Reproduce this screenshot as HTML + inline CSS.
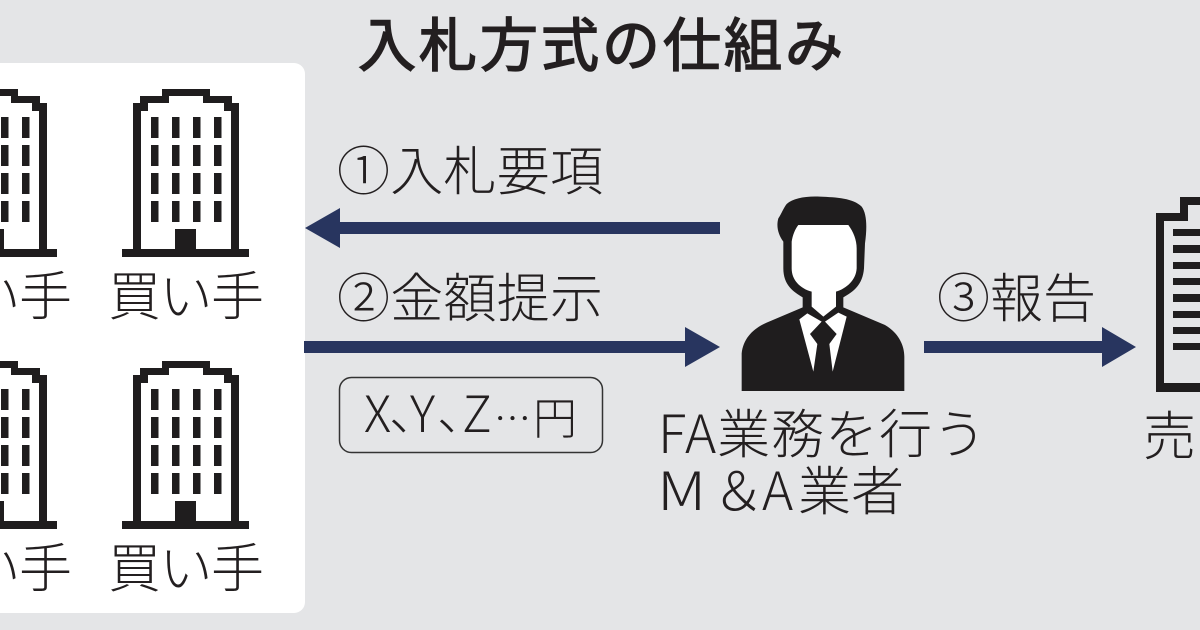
<!DOCTYPE html>
<html lang="ja"><head><meta charset="utf-8"><style>
html,body{margin:0;padding:0;background:#e4e5e7}
svg{display:block}
text{font-family:"Noto Sans CJK JP","Liberation Sans",sans-serif;fill:#231f20}
.l{font-size:53px;font-weight:300}
</style></head><body>
<svg width="1200" height="630" viewBox="0 0 1200 630" xmlns="http://www.w3.org/2000/svg">
<defs>
<g id="b" fill="#1f1d1e">
<path fill-rule="evenodd" d="M122 249H133V103H140V96H162V89H210V96H232V103H239V249H249V257H122ZM141 249H231V111H224V103H203V96H169V103H148V111H141Z"/>
<rect x="151" y="117" width="7.500" height="21"/><rect x="172" y="117" width="7.500" height="21"/><rect x="193" y="117" width="7.500" height="21"/><rect x="214" y="117" width="7.500" height="21"/>
<rect x="151" y="145" width="7.500" height="21"/><rect x="172" y="145" width="7.500" height="21"/><rect x="193" y="145" width="7.500" height="21"/><rect x="214" y="145" width="7.500" height="21"/>
<rect x="151" y="173" width="7.500" height="21"/><rect x="172" y="173" width="7.500" height="21"/><rect x="193" y="173" width="7.500" height="21"/><rect x="214" y="173" width="7.500" height="21"/>
<rect x="151" y="201" width="7.500" height="21"/><rect x="172" y="201" width="7.500" height="21"/><rect x="193" y="201" width="7.500" height="21"/><rect x="214" y="201" width="7.500" height="21"/>
<rect x="175" y="229" width="21" height="21"/>
</g>
</defs>
<rect width="1200" height="630" fill="#e4e5e7"/>
<rect x="-20" y="63" width="325" height="550" rx="11" fill="#fff"/>
<text x="358" y="66" font-size="58" font-weight="400" stroke="#231f20" stroke-width="1.600" textLength="485" lengthAdjust="spacing">入札方式の仕組み</text>
<use href="#b"/><use href="#b" x="-192"/><use href="#b" y="272"/><use href="#b" x="-192" y="272"/>
<text class="l" x="108" y="315" textLength="156" lengthAdjust="spacing">買い手</text>
<text class="l" x="-84" y="315" textLength="156" lengthAdjust="spacing">買い手</text>
<text class="l" x="108" y="587" textLength="156" lengthAdjust="spacing">買い手</text>
<text class="l" x="-84" y="587" textLength="156" lengthAdjust="spacing">買い手</text>
<text class="l" x="337" y="190" textLength="266" lengthAdjust="spacing">①入札要項</text>
<text class="l" x="337" y="317" textLength="266" lengthAdjust="spacing">②金額提示</text>
<text class="l" x="937" y="317" textLength="159" lengthAdjust="spacing">③報告</text>
<g fill="#28355f">
<path d="M305 228L340 208V222H720V234H340V248Z"/>
<path d="M304 341H685V327L720 347L685 367V353H304Z"/>
<path d="M924 341H1102V327L1136 347L1102 367V353H924Z"/>
</g>
<rect x="339.500" y="377.500" width="263" height="75" rx="12" fill="none" stroke="#333" stroke-width="1.500"/>
<g font-weight="300">
<text x="364" y="432" font-size="50">X</text>
<text x="389" y="430" font-size="50">、</text>
<text x="410" y="432" font-size="50">Y</text>
<text x="437" y="430" font-size="50">、</text>
<text x="462" y="432" font-size="50">Z</text>
<text x="494" y="432" font-size="37">…</text>
<text x="533" y="434" font-size="44">円</text>
</g>
<g transform="translate(730,190) scale(.33333)">
<path fill="#1f1d1e" d="M35 603V490C40 445 70 415 110 398L218 352V322C190 305 160 285 160 235V155C145 135 138 110 145 85C155 70 160 55 170 42C190 25 225 18 270 20C320 22 370 25 395 50C410 70 412 110 405 160L402 235C398 285 370 305 340 322V352L465 405C500 425 523 460 523 500V603Z"/>
<path fill="#fff" d="M205 105H355C370 125 380 150 380 175V235C378 270 350 295 318 305V350L280 380L245 350V305C210 295 185 270 185 235V155C188 135 195 118 205 105Z"/>
<path fill="#fff" d="M208 388L232 370L275 395L240 432L262 462L250 545Z"/>
<path fill="#fff" d="M350 380L325 368L285 395L320 432L298 462L308 545Z"/>
</g>
<text class="l" x="658" y="453" textLength="328" lengthAdjust="spacing">FA業務を行う</text>
<text class="l" transform="translate(657,510) scale(1.180,1)" x="0" y="0">M</text>
<text class="l" x="712" y="510">＆</text>
<text class="l" x="762" y="510">A</text>
<text class="l" x="798" y="510">業者</text>
<path fill="#1f1d1e" fill-rule="evenodd" d="M1156 213H1180V197H1220V392H1156ZM1164 221V383H1220V205H1188V221Z"/>
<g fill="#1f1d1e">
<rect x="1173" y="229" width="40" height="7"/><rect x="1173" y="245" width="40" height="8"/><rect x="1173" y="262" width="40" height="7"/><rect x="1173" y="278" width="40" height="7"/><rect x="1173" y="294" width="40" height="8"/><rect x="1173" y="311" width="40" height="7"/><rect x="1173" y="327" width="40" height="7"/><rect x="1173" y="343" width="40" height="7"/>
</g>
<text class="l" x="1143" y="455">売り手</text>
</svg>
</body></html>
